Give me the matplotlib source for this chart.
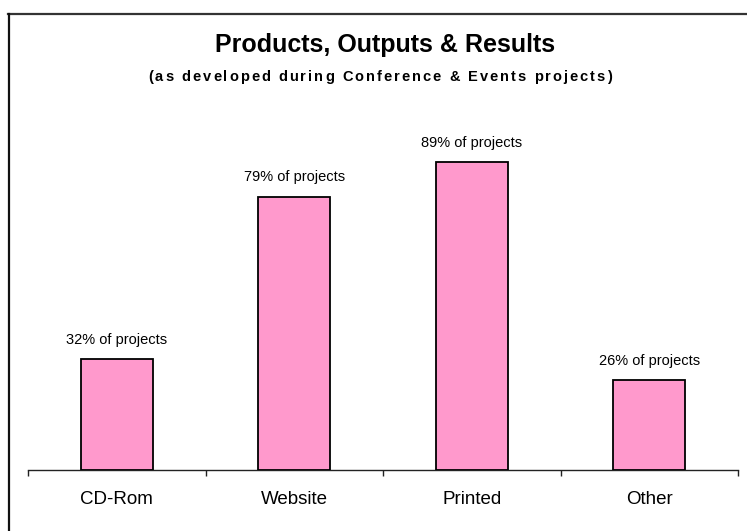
import matplotlib
matplotlib.use("Agg")
import matplotlib.pyplot as plt
from matplotlib.lines import Line2D

plt.rcParams["font.family"] = ["Liberation Sans", "DejaVu Sans"]

categories = ["CD-Rom", "Website", "Printed", "Other"]
shares = [32, 79, 89, 26]  # % of projects
bar_labels = ["32% of projects", "79% of projects", "89% of projects", "26% of projects"]

title = "Products, Outputs & Results"
subtitle = "(as developed during Conference & Events projects)"

fig = plt.figure(figsize=(7.47, 5.31), dpi=100)
fig.patch.set_facecolor("white")

# frame lines around the chart area (top and left)
fig.add_artist(Line2D([8 / 747, 1.0], [1 - 14 / 531, 1 - 14 / 531],
                      transform=fig.transFigure, color="#333333", lw=1.6))
fig.add_artist(Line2D([8.5 / 747, 8.5 / 747], [0.0, 1 - 14 / 531],
                      transform=fig.transFigure, color="#111111", lw=1.6))

ax = fig.add_axes([28 / 747, 1 - 470 / 531, 710 / 747, 346 / 531])
x = list(range(len(categories)))
bars = ax.bar(x, shares, width=0.405, color="#FF99CC", edgecolor="black", linewidth=1.3, zorder=3)

for rect, lab in zip(bars, bar_labels):
    ax.annotate(lab, (rect.get_x() + rect.get_width() / 2, rect.get_height()),
                xytext=(0, 9), textcoords="offset points",
                ha="center", va="bottom", fontsize=10.5, color="black")

ax.set_xlim(-0.5, len(categories) - 0.5)
ax.set_ylim(0, 100)
for side in ["top", "right", "left"]:
    ax.spines[side].set_visible(False)
ax.spines["bottom"].set_color("#222222")
ax.spines["bottom"].set_linewidth(1.0)
ax.set_yticks([])

ax.set_xticks(x)
ax.set_xticklabels(categories, fontsize=13.5)
ax.tick_params(axis="x", which="major", length=0, pad=15)
ax.set_xticks([i - 0.5 for i in range(len(categories) + 1)], minor=True)
ax.tick_params(axis="x", which="minor", length=4, width=1.0, direction="out", color="#222222")

# chart title
fig.text(385 / 747, 1 - 45 / 531, title, ha="center", va="center",
         fontsize=18, fontweight="bold")

# letter-spaced subtitle, placed one character at a time
renderer = fig.canvas.get_renderer()
spacing = 2.0  # px between characters
sub_size = 10.5
widths = []
for ch in subtitle:
    t = fig.text(0, 0, ch if ch != " " else "a a", fontsize=sub_size, fontweight="bold")
    w = t.get_window_extent(renderer).width
    if ch == " ":
        t2 = fig.text(0, 0, "aa", fontsize=sub_size, fontweight="bold")
        w = w - t2.get_window_extent(renderer).width
        t2.remove()
    widths.append(w)
    t.remove()
total = sum(widths) + spacing * (len(subtitle) - 1)
xpos = 380 - total / 2
for ch, w in zip(subtitle, widths):
    if ch != " ":
        fig.text(xpos / 747, 1 - 77 / 531, ch, ha="left", va="center",
                 fontsize=sub_size, fontweight="bold")
    xpos += w + spacing

fig.savefig("out.png", dpi=100, facecolor="white")
